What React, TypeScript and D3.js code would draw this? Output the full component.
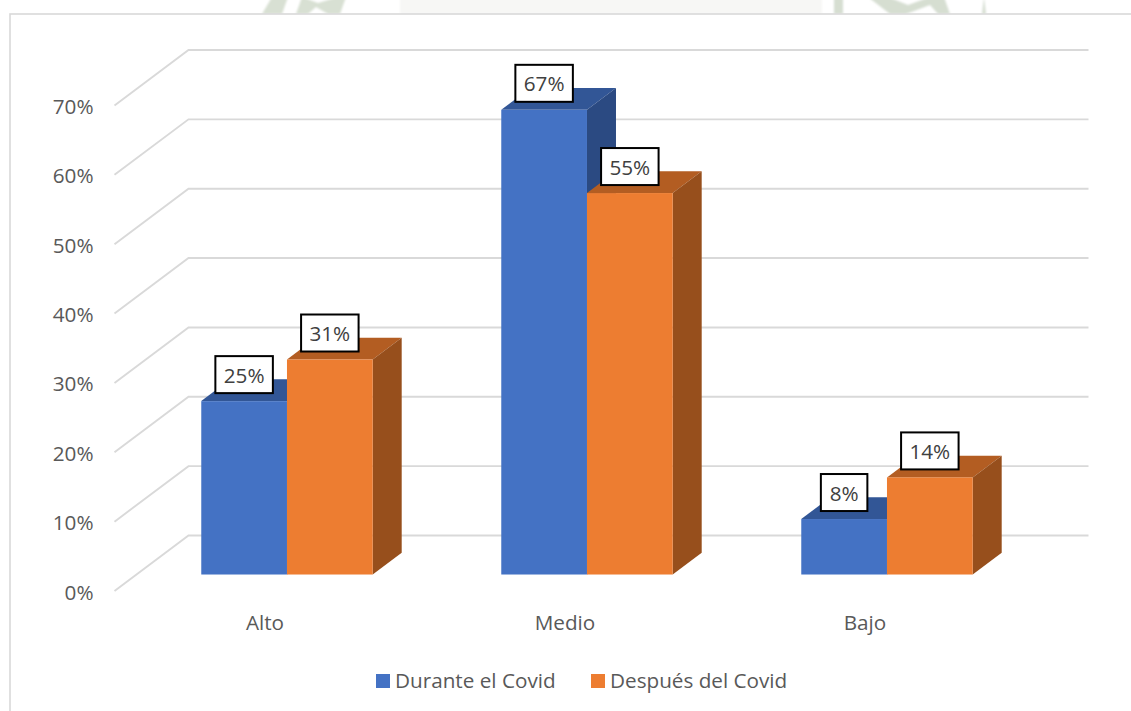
import React from "react";
import * as d3 from "d3";

const categories = ["Alto", "Medio", "Bajo"];
const seriesNames = ["Durante el Covid", "Después del Covid"];
const durante = [25, 67, 8];
const despues = [31, 55, 14];
const yTicks = [0, 10, 20, 30, 40, 50, 60, 70];
const seriesValues = [durante, despues];

const FONT = "'Open Sans', sans-serif";
const FS = 20.7;
const faces = [
  { front: "#4472C4", top: "#325696", side: "#2B4A82" },
  { front: "#ED7D31", top: "#B35D22", side: "#974F1C" },
];

const W = 1131, H = 711;
const x = d3.scaleBand<string>().domain(categories).range([115, 1015]);
const y = d3.scaleLinear().domain([0, 70]).range([591, 105.5]);
const inner = d3.scaleBand<number>().domain([0, 1]).range([0, x.bandwidth()]).paddingInner(0).paddingOuter(0.75);
// projection of depth into the picture plane
const depth = d3.scaleLinear().domain([0, 1]).range([0, 74]);
const rise = d3.scaleLinear().domain([0, 1]).range([0, 55.5]);
const barD0 = 0.297, barD1 = 0.689;
const line = d3.line<[number, number]>();

function labelWidth(v: number) { return v < 10 ? 46.5 : 57.5; }

export default function App() {
  return (
    <svg width={W} height={H} viewBox={`0 0 ${W} ${H}`} style={{ position: "absolute", left: 0, top: 0, background: "#fff" }}>
      <defs>
        <filter id="soft" x="-5%" y="-50%" width="110%" height="200%"><feGaussianBlur stdDeviation="0.9" /></filter>
      </defs>
      {/* faint watermark behind the chart frame */}
      <g filter="url(#soft)">
        <rect x={400} y={-4} width={422} height={18} fill="#f7f7f5" />
        <path d="M262,14 L272,-3 L288,-3 L282,14 Z M296,14 L302,-3 L318,3 L338,-3 L346,-3 L340,14 L328,14 L316,7 L308,14 Z" fill="#d8e0d3" />
        <path d="M834,14 L834,-3 L843,-3 L843,14 Z M868,-3 L888,-3 L908,5 L930,-3 L944,-3 L950,14 L938,14 L930,5 L906,14 L890,14 Z M984,-3 L986,14 L982,14 Z" fill="#d6ded1" />
      </g>
      <rect x={10} y={14} width={W} height={H} fill="#fff" stroke="#d9d9d9" strokeWidth={1.6} />

      {yTicks.map((t) => {
        const y0 = y(t), xa = x.range()[0] - 0.5, xb = x.range()[1] - 0.5;
        return (
          <g key={t}>
            <path
              d={line([[xa, y0], [xa + depth(1), y0 - rise(1)], [xb + depth(1), y0 - rise(1)]]) ?? ""}
              fill="none" stroke="#d9d9d9" strokeWidth={1.9}
            />
            <text x={93.5} y={y0 + 8.5} textAnchor="end" fontFamily={FONT} fontSize={FS} fill="#595959">{t}%</text>
          </g>
        );
      })}

      {categories.map((c, ci) => (
        <g key={c}>
          {seriesValues.map((vals, si) => {
            const v = vals[ci];
            const bw = inner.bandwidth();
            const fx0 = (x(c) ?? 0) + (inner(si) ?? 0) + depth(barD0), fx1 = fx0 + bw;
            const bot = y(0) - rise(barD0), top = y(v) - rise(barD0);
            const dx = depth(barD1) - depth(barD0), dy = rise(barD1) - rise(barD0);
            return (
              <g key={si}>
                <path d={line([[fx0, top], [fx0 + dx, top - dy], [fx1 + dx, top - dy], [fx1, top]]) + "Z"} fill={faces[si].top} />
                <path d={line([[fx1, top], [fx1 + dx, top - dy], [fx1 + dx, bot - dy], [fx1, bot]]) + "Z"} fill={faces[si].side} />
                <rect x={fx0} y={top} width={bw} height={bot - top} fill={faces[si].front} />
              </g>
            );
          })}
          <text x={(x(c) ?? 0) + x.bandwidth() / 2} y={630} textAnchor="middle" fontFamily={FONT} fontSize={FS} fill="#595959">{c}</text>
        </g>
      ))}

      {categories.map((c, ci) =>
        seriesValues.map((vals, si) => {
          const v = vals[ci];
          const cx = (x(c) ?? 0) + (inner(si) ?? 0) + depth(barD0) + inner.bandwidth() / 2;
          const top = y(v) - rise(barD0);
          const w = labelWidth(v);
          return (
            <g key={`${c}-${si}`}>
              <rect x={cx - w / 2} y={top - 45} width={w} height={37} fill="#fff" stroke="#000" strokeWidth={2} />
              <text x={cx} y={top - 18.5} textAnchor="middle" fontFamily={FONT} fontSize={FS} fill="#404040">{v}%</text>
            </g>
          );
        })
      )}

      {seriesNames.map((n, i) => {
        const lx = i === 0 ? 376 : 591;
        return (
          <g key={n}>
            <rect x={lx} y={674} width={14} height={14} fill={faces[i].front} />
            <text x={lx + 19} y={688} fontFamily={FONT} fontSize={FS} fill="#595959">{n}</text>
          </g>
        );
      })}
    </svg>
  );
}
